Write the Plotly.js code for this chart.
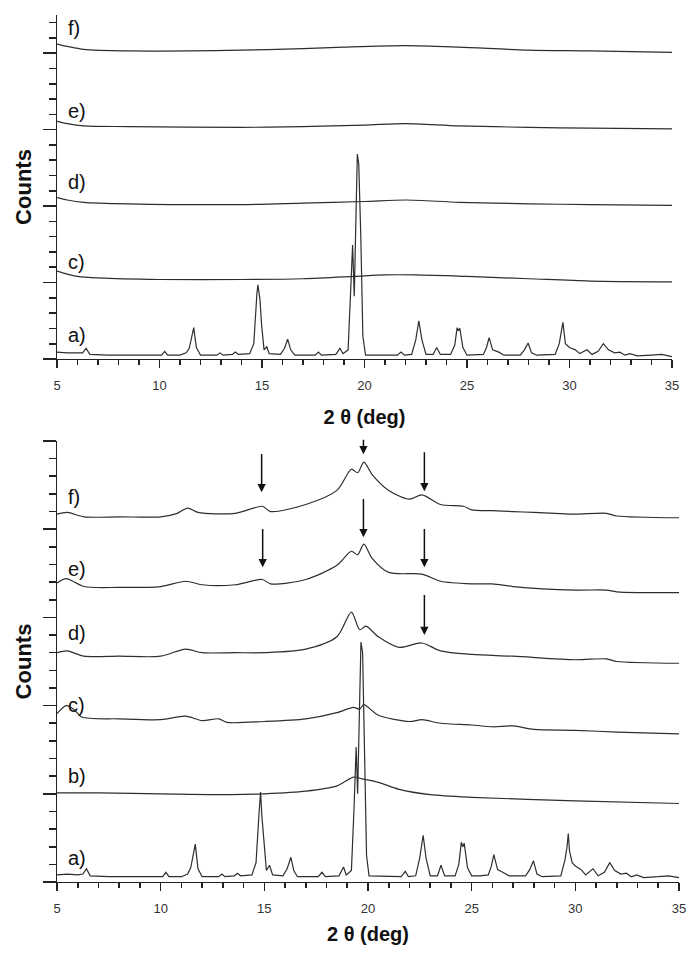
<!DOCTYPE html>
<html>
<head>
<meta charset="utf-8">
<script src="https://cdn.plot.ly/plotly-3.0.1.min.js"></script>
<style>html,body{margin:0;padding:0;background:#fff;}#chart{width:699px;height:962px;}</style>
</head>
<body>
<div id="chart"></div>
<script>
// ---------- DATA (2θ in degrees, counts in stacked arbitrary units) ----------
// Top panel
const topA_x = [5.0,5.5,6.0,6.25,6.42,6.6,7.5,9,10.1,10.25,10.4,11.0,11.3,11.45,11.55,11.67,11.8,12.0,12.8,12.95,13.1,13.55,13.7,13.85,14.4,14.6,14.75,14.8,14.9,14.98,15.1,15.23,15.35,15.9,16.1,16.25,16.4,16.6,17.6,17.75,17.9,18.6,18.8,18.95,19.2,19.3,19.42,19.5,19.58,19.65,19.72,19.82,19.92,20.05,21.6,21.78,21.95,22.3,22.5,22.65,22.8,23.0,23.35,23.52,23.7,24.2,24.4,24.52,24.58,24.65,24.8,25.0,25.8,25.95,26.08,26.25,26.55,26.8,27.6,27.8,27.98,28.15,28.4,29.3,29.5,29.62,29.68,29.8,30.0,30.28,30.5,30.85,31.1,31.4,31.65,31.9,32.2,32.46,32.7,32.95,33.3,34.0,34.5,35.0];
const topA_y = [0.09,0.08,0.08,0.08,0.14,0.06,0.05,0.05,0.05,0.10,0.05,0.05,0.08,0.14,0.28,0.41,0.15,0.05,0.05,0.08,0.05,0.06,0.09,0.06,0.07,0.20,0.85,0.97,0.78,0.45,0.12,0.16,0.07,0.06,0.14,0.26,0.12,0.05,0.05,0.09,0.05,0.06,0.14,0.07,0.12,0.70,1.49,0.82,1.90,2.68,2.55,1.60,0.30,0.05,0.05,0.09,0.05,0.06,0.25,0.50,0.25,0.06,0.06,0.15,0.06,0.06,0.18,0.41,0.37,0.40,0.15,0.05,0.06,0.15,0.28,0.12,0.09,0.05,0.05,0.12,0.21,0.08,0.05,0.06,0.20,0.40,0.48,0.20,0.15,0.12,0.07,0.12,0.06,0.10,0.20,0.12,0.08,0.09,0.05,0.07,0.04,0.05,0.06,0.03];
const topC_x = [5,5.5,6,7,10,14,17,19.5,21,22.5,25,28,31,35];
const topC_y = [1.15,1.11,1.08,1.06,1.04,1.04,1.05,1.08,1.10,1.10,1.08,1.05,1.02,1.01];
const topD_x = [5,5.5,6.3,8.5,14,17,20,22,24.6,28,31,35];
const topD_y = [2.11,2.08,2.05,2.03,2.02,2.04,2.06,2.08,2.05,2.03,2.02,2.01];
const topE_x = [5,5.5,6.3,8.5,14,17,20,22,24.6,28,31,35];
const topE_y = [3.11,3.08,3.05,3.04,3.03,3.04,3.06,3.08,3.05,3.03,3.02,3.01];
const topF_x = [5,5.5,6.3,8.5,14,17,19,22,24.6,28,31,35];
const topF_y = [4.12,4.09,4.05,4.03,4.04,4.06,4.08,4.10,4.08,4.04,4.03,4.01];
const topLabels = ['a)','c)','d)','e)','f)'];
const topLabelY = [0.31,1.27,2.31,3.25,4.33];

// Bottom panel
const botA_x = [5.0,5.5,6.0,6.25,6.42,6.6,7.5,9,10.1,10.25,10.4,11.0,11.3,11.45,11.55,11.67,11.8,12.0,12.8,12.95,13.1,13.55,13.7,13.85,14.4,14.6,14.75,14.82,14.88,14.98,15.1,15.25,15.4,15.9,16.1,16.28,16.42,16.6,17.6,17.78,17.95,18.6,18.82,18.95,19.2,19.32,19.43,19.5,19.58,19.66,19.74,19.84,19.93,20.05,21.6,21.8,21.95,22.3,22.5,22.66,22.8,23.0,23.35,23.52,23.7,24.2,24.38,24.5,24.57,24.64,24.8,25.0,25.4,25.8,25.95,26.07,26.25,26.5,26.8,27.6,27.8,27.98,28.15,28.4,29.3,29.5,29.6,29.66,29.72,29.85,30.0,30.28,30.5,30.85,31.1,31.4,31.66,31.9,32.2,32.46,32.7,32.95,33.3,34.0,34.5,35.0];
const botA_y = [0.08,0.09,0.08,0.09,0.15,0.07,0.06,0.06,0.06,0.11,0.06,0.06,0.09,0.16,0.30,0.43,0.15,0.06,0.06,0.09,0.06,0.07,0.10,0.07,0.08,0.22,0.80,1.02,0.75,0.50,0.13,0.19,0.08,0.07,0.15,0.28,0.13,0.06,0.06,0.11,0.06,0.07,0.17,0.08,0.13,0.80,1.53,1.00,2.00,2.72,2.60,1.45,0.30,0.07,0.06,0.12,0.06,0.07,0.28,0.53,0.27,0.07,0.07,0.19,0.07,0.07,0.20,0.45,0.40,0.44,0.16,0.07,0.07,0.08,0.18,0.31,0.14,0.11,0.07,0.07,0.14,0.24,0.09,0.06,0.07,0.25,0.40,0.55,0.35,0.22,0.18,0.14,0.08,0.15,0.07,0.11,0.22,0.13,0.09,0.10,0.06,0.08,0.05,0.06,0.07,0.05];
const botB_x = [5,7,10,13.4,15,17,18.5,19.3,19.7,20.5,21.5,23,25,30,35];
const botB_y = [1.01,1.01,1.00,0.99,1.00,1.03,1.09,1.19,1.17,1.13,1.05,0.99,0.96,0.92,0.89];
const botC_x = [5,5.45,5.8,6.2,8,10,11.2,12,12.8,13.2,15,17,18.5,19.3,19.6,19.8,20.5,22,22.6,23.5,25,26,27,28,30,32,35];
const botC_y = [1.91,2.00,1.96,1.87,1.85,1.84,1.88,1.83,1.85,1.81,1.82,1.85,1.92,1.98,1.96,2.01,1.89,1.82,1.84,1.80,1.78,1.76,1.77,1.73,1.72,1.70,1.68];
const botD_x = [5,5.5,6.3,8,10,11.2,12,13.6,15,17,18.5,19.2,19.6,19.9,20.5,21.5,22.6,23.5,25,27,30,31.5,32,35];
const botD_y = [2.60,2.62,2.56,2.56,2.56,2.64,2.60,2.60,2.60,2.64,2.78,3.06,2.86,2.90,2.78,2.66,2.71,2.62,2.58,2.56,2.52,2.53,2.50,2.48];
const botE_x = [5,5.45,6.3,8,10,11.2,12,13.6,14.9,15.3,17,18.5,19.2,19.5,19.8,20.2,21,22.6,23.5,25,26,27,30,31.5,32,35];
const botE_y = [3.39,3.44,3.35,3.34,3.35,3.41,3.37,3.37,3.43,3.38,3.43,3.59,3.75,3.71,3.83,3.67,3.51,3.49,3.41,3.38,3.38,3.35,3.31,3.31,3.29,3.28];
const botF_x = [5,5.5,6.3,8,10,10.8,11.3,11.8,13.6,14.9,15.3,17,18.5,19.2,19.5,19.8,20.2,21,22,22.6,23.5,24.6,25,26,27,28,29,30,31.5,32,35];
const botF_y = [4.17,4.19,4.14,4.14,4.14,4.18,4.24,4.19,4.18,4.26,4.20,4.28,4.44,4.68,4.64,4.76,4.62,4.44,4.34,4.39,4.28,4.26,4.22,4.21,4.20,4.19,4.18,4.17,4.18,4.15,4.13];
const botLabels = ['a)','b)','c)','d)','e)','f)'];
const botLabelY = [0.27,1.20,2.01,2.82,3.55,4.36];
// arrows (bottom panel): position, tail and head
const arrowX    = [14.87,19.78,22.72,14.92,19.78,22.72,22.72];
const arrowTail = [4.87,5.03,4.89,4.02,4.36,4.02,3.27];
const arrowHead = [4.42,4.85,4.43,3.57,3.91,3.57,2.80];

// ---------- CHART ----------
function tr(x,y,xa,ya,smooth){
  const line = {color:'#2e2e2e', width:1.2};
  if (smooth) { line.shape = 'spline'; line.smoothing = 0.8; }
  return {x:x,y:y,xaxis:xa,yaxis:ya,type:'scatter',mode:'lines',line:line,showlegend:false,hoverinfo:'skip'};
}
const data = [
  tr(topA_x,topA_y,'x','y',false), tr(topC_x,topC_y,'x','y',true), tr(topD_x,topD_y,'x','y',true),
  tr(topE_x,topE_y,'x','y',true), tr(topF_x,topF_y,'x','y',true),
  tr(botA_x,botA_y,'x2','y2',false), tr(botB_x,botB_y,'x2','y2',true), tr(botC_x,botC_y,'x2','y2',true),
  tr(botD_x,botD_y,'x2','y2',true), tr(botE_x,botE_y,'x2','y2',true), tr(botF_x,botF_y,'x2','y2',true)
];

const FONT = '"Liberation Sans", Arial, Helvetica, sans-serif';
function xAxis(domain, anchor, standoff){
  return {domain:domain, anchor:anchor, range:[5,35], dtick:5, tick0:5,
    showline:true, linecolor:'#222', linewidth:1.4, mirror:false,
    ticks:'outside', ticklen:8, tickwidth:1.6, tickcolor:'#222',
    minor:{dtick:1, ticks:'outside', ticklen:5, tickwidth:1.6, tickcolor:'#222'},
    showgrid:false, zeroline:false, ticklabelstandoff:6,
    tickfont:{family:FONT, size:13, color:'#333'},
    title:{text:'<b>2 θ (deg)</b>', font:{family:FONT, size:20, color:'#111'}, standoff:standoff}};
}
function yAxis(domain, anchor, top){
  return {domain:domain, anchor:anchor, range:[0,top], dtick:1, tick0:0,
    showline:true, linecolor:'#222', linewidth:1.4,
    ticks:'outside', ticklen:13, tickwidth:1.6, tickcolor:'#222',
    minor:{dtick:0.2, ticks:'outside', ticklen:7, tickwidth:1.6, tickcolor:'#222'},
    showticklabels:false, showgrid:false, zeroline:false,
    title:{text:'<b>Counts</b>', font:{family:FONT, size:22, color:'#111'}, standoff:5}};
}

const annotations = [];
topLabels.forEach((t,i)=>annotations.push({xref:'x',yref:'y',x:5.45,y:topLabelY[i],text:t,showarrow:false,xanchor:'left',yanchor:'middle',font:{family:FONT,size:20,color:'#111'}}));
botLabels.forEach((t,i)=>annotations.push({xref:'x2',yref:'y2',x:5.45,y:botLabelY[i],text:t,showarrow:false,xanchor:'left',yanchor:'middle',font:{family:FONT,size:20,color:'#111'}}));
arrowX.forEach((ax,i)=>annotations.push({xref:'x2',yref:'y2',axref:'x2',ayref:'y2',x:ax,y:arrowHead[i],ax:ax,ay:arrowTail[i],text:'',showarrow:true,arrowhead:2,arrowsize:1.1,arrowwidth:1.5,arrowcolor:'#111'}));

const layout = {
  width:699, height:962, margin:{l:0,r:0,t:0,b:0},
  paper_bgcolor:'#fff', plot_bgcolor:'#fff',
  font:{family:FONT, color:'#222'},
  xaxis: xAxis([57/699, 672/699], 'y', 18),
  yaxis: yAxis([1-359/962, 1-15/962], 'x', 4.5),
  xaxis2: xAxis([57/699, 679/699], 'y2', 12),
  yaxis2: yAxis([1-882/962, 1-441/962], 'x2', 5),
  annotations: annotations
};
Plotly.newPlot('chart', data, layout, {displayModeBar:false, staticPlot:true});
</script>
</body>
</html>
